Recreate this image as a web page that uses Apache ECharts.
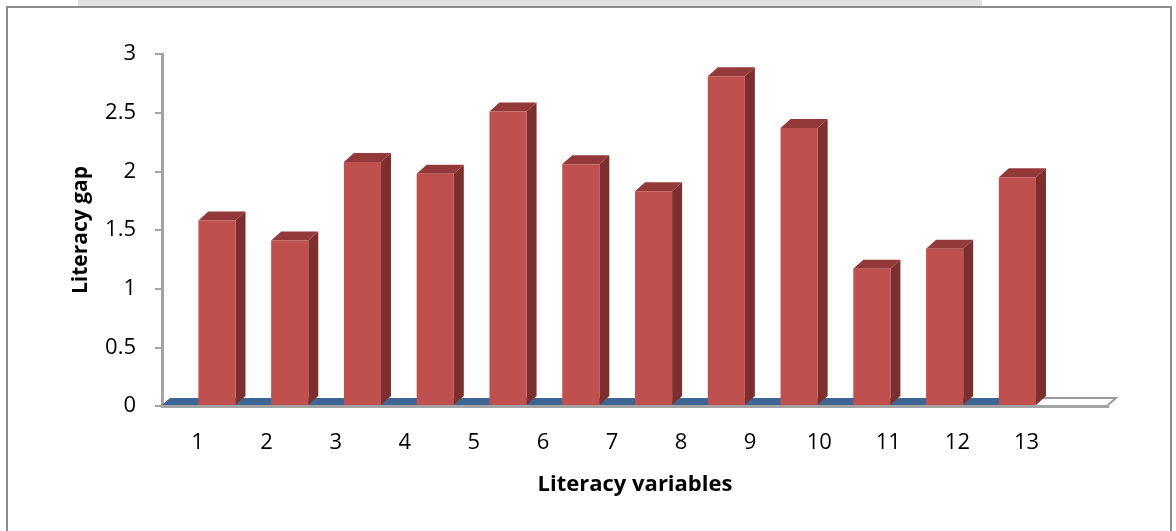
<!DOCTYPE html>
<html>
<head>
<meta charset="utf-8">
<script src="https://cdn.jsdelivr.net/npm/echarts@6/dist/echarts.min.js"></script>
<style>
  html, body { margin: 0; padding: 0; background: #fff; }
  #chart { width: 1176px; height: 531px; }
</style>
</head>
<body>
<div id="chart"></div>
<script>
// literacy variables on x, literacy gap on y
const categories = ['1', '2', '3', '4', '5', '6', '7', '8', '9', '10', '11', '12', '13'];
const gapValues = [1.58, 1.41, 2.08, 1.98, 2.51, 2.06, 1.83, 2.81, 2.37, 1.17, 1.34, 1.95, 0];

const FONT = 'Open Sans';
const DX = 10, DY = 9;   // fake 3d depth for the columns
const FDX = 8, FDY = 7;  // depth of the floor

const chart = echarts.init(document.getElementById('chart'));

function renderFloor(params, api) {
  const idx = api.value(0);
  const p = api.coord([idx, 0]);
  const band = api.size([1, 0])[0];
  const x1 = p[0] - band / 2, x2 = p[0] + band / 2, y0 = p[1] - 1;
  const pts = [[x1, y0], [x1 + FDX, y0 - FDY], [x2 + FDX, y0 - FDY], [x2, y0]];
  if (api.value(1) > 0) {
    return { type: 'polygon', shape: { points: pts }, style: { fill: '#3e6694' } };
  }
  // empty category: white floor with grey edge
  return {
    type: 'group',
    children: [
      { type: 'polygon', shape: { points: pts }, style: { fill: '#fff' } },
      {
        type: 'polyline',
        shape: { points: [[x1 + FDX, y0 - FDY], [x2 + FDX, y0 - FDY], [x2, y0]] },
        style: { stroke: '#9a9a9a', lineWidth: 2, fill: null }
      }
    ]
  };
}

function renderColumn(params, api) {
  const idx = api.value(0);
  const v = api.value(1);
  if (!v) return null;
  const top = api.coord([idx, v]);
  const base = api.coord([idx, 0]);
  const band = api.size([1, 0])[0];
  const x1 = top[0], x2 = top[0] + band * 0.51;
  const y = top[1], y0 = base[1] - 1;
  return {
    type: 'group',
    children: [
      {
        type: 'polygon',
        shape: { points: [[x2, y], [x2 + DX, y - DY], [x2 + DX, y0 - DY], [x2, y0]] },
        style: { fill: '#7d2f2d' }
      },
      {
        type: 'polygon',
        shape: { points: [[x1, y], [x1 + DX, y - DY], [x2 + DX, y - DY], [x2, y]] },
        style: { fill: '#94393a' }
      },
      {
        type: 'rect',
        shape: { x: x1, y: y, width: x2 - x1, height: y0 - y },
        style: { fill: '#c0504d' }
      }
    ]
  };
}

const seriesData = categories.map((c, i) => [i, gapValues[i]]);

const option = {
  backgroundColor: '#fff',
  animation: false,
  textStyle: { fontFamily: FONT },
  graphic: [
    { type: 'rect', shape: { x: 78, y: 0, width: 904, height: 6 }, style: { fill: '#e2e2e2' }, z: -1 },
    {
      type: 'rect',
      shape: { x: 7, y: 7, width: 1164, height: 560 },
      style: { fill: null, stroke: '#8c8c8c', lineWidth: 2 },
      z: -1
    }
  ],
  grid: [
    { left: 162, top: 54, width: 946, height: 352 },
    { left: 163, top: 54, width: 898, height: 352 }
  ],
  xAxis: [
    {
      type: 'category',
      gridIndex: 0,
      data: categories,
      axisLine: { lineStyle: { color: '#a3a3a3', width: 3 } },
      axisTick: { show: false },
      axisLabel: { show: false },
      name: 'Literacy variables',
      nameLocation: 'middle',
      nameGap: 68,
      nameTextStyle: { fontFamily: FONT, fontSize: 22, fontWeight: 'bold', color: '#000' }
    },
    {
      // tick labels sit a little tighter than the columns (perspective in the original)
      type: 'category',
      gridIndex: 1,
      data: categories,
      axisLine: { show: false },
      axisTick: { show: false },
      axisLabel: { margin: 26, fontFamily: FONT, fontSize: 22, color: '#000' }
    }
  ],
  yAxis: [
    {
      type: 'value',
      gridIndex: 0,
      min: 0,
      max: 3,
      interval: 0.5,
      axisLine: { show: true, lineStyle: { color: '#a3a3a3', width: 3 } },
      axisTick: { show: true, length: 7, lineStyle: { color: '#a3a3a3', width: 2 } },
      splitLine: { show: false },
      axisLabel: { margin: 26, fontFamily: FONT, fontSize: 22, color: '#000' },
      name: 'Literacy gap',
      nameLocation: 'middle',
      nameGap: 70,
      nameTextStyle: { fontFamily: FONT, fontSize: 21, fontWeight: 'bold', color: '#000' }
    },
    { type: 'value', gridIndex: 1, min: 0, max: 3, show: false }
  ],
  series: [
    {
      type: 'custom',
      xAxisIndex: 0,
      yAxisIndex: 0,
      renderItem: renderFloor,
      data: seriesData,
      z: 1
    },
    {
      type: 'custom',
      xAxisIndex: 0,
      yAxisIndex: 0,
      renderItem: renderColumn,
      data: seriesData,
      z: 2
    }
  ]
};

chart.setOption(option);
</script>
</body>
</html>
